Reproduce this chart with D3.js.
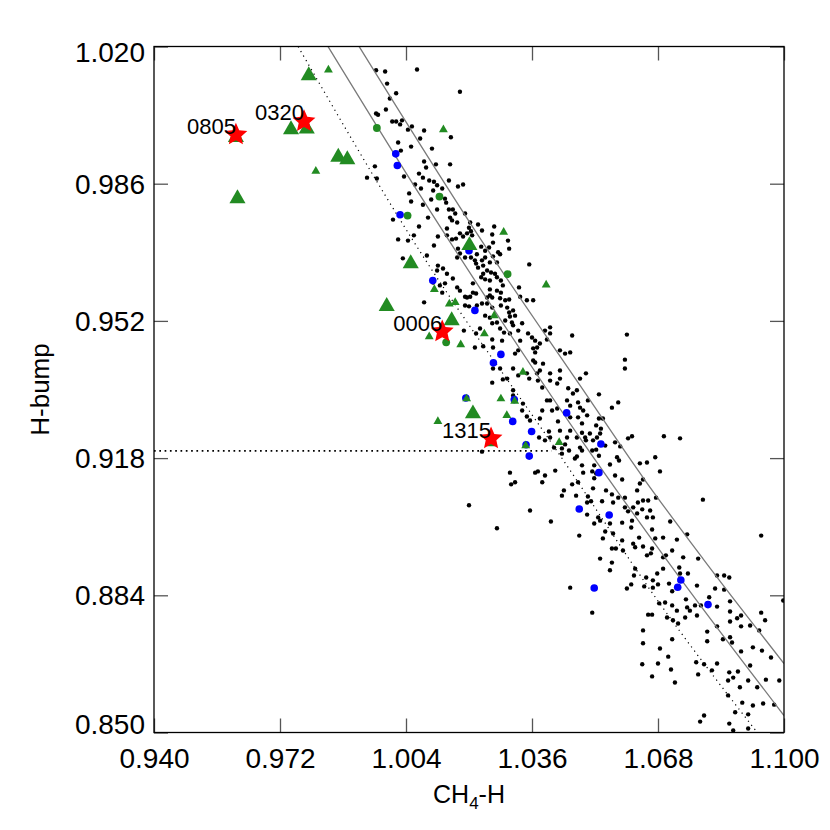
<!DOCTYPE html>
<html>
<head>
<meta charset="utf-8">
<script src="https://cdn.jsdelivr.net/npm/d3@7/dist/d3.min.js"></script>
<style>
  body { margin: 0; background: #fff; }
  text { font-family: "Liberation Sans", Arial, Helvetica, sans-serif; fill: #000; }
</style>
</head>
<body>
<div id="chart"></div>
<script>
// ------------------------- data ------------------------//

var xTicks = [0.940, 0.972, 1.004, 1.036, 1.068, 1.100];
var yTicks = [0.850, 0.884, 0.918, 0.952, 0.986, 1.020];

// field objects (small black dots)
var fieldStars = [
  [0.9964,1.0141],[0.9987,1.0138],[1.0068,1.0143],[0.9992,1.0108],[1.0015,1.0084],[0.9999,1.0071],[1.0177,1.0088],[0.9964,1.0034],[0.9969,1.0031],[0.9989,1.0044],
  [1.0005,1.0014],[1.0015,1.0014],[1.0030,1.0017],[1.0025,1.0007],[1.0055,1.0002],[1.0045,0.9994],[1.0086,0.9992],[1.0076,0.9972],[1.0154,0.9975],[1.0020,0.9962],
  [1.0027,0.9942],[1.0053,0.9952],[1.0106,0.9947],[0.9961,0.9903],[0.9941,0.9875],[0.9966,0.9873],[1.0035,0.9878],[1.0086,0.9915],[1.0091,0.9900],[1.0116,0.9908],
  [1.0152,0.9908],[1.0073,0.9885],[1.0083,0.9875],[1.0099,0.9868],[1.0111,0.9865],[1.0119,0.9856],[1.0063,0.9858],[1.0078,0.9848],[1.0048,0.9836],[1.0132,0.9848],
  [1.0149,0.9868],[1.0172,0.9853],[1.0185,0.9858],[1.0053,0.9816],[1.0083,0.9808],[1.0104,0.9821],[1.0139,0.9823],[1.0119,0.9796],[1.0096,0.9776],[1.0149,0.9796],
  [1.0159,0.9796],[1.0165,0.9786],[1.0190,0.9786],[1.0152,0.9776],[1.0170,0.9764],[1.0203,0.9764],[1.0223,0.9759],[1.0264,0.9754],[1.0073,0.9754],[1.0007,0.9771],
  [1.0060,0.9732],[1.0121,0.9729],[1.0144,0.9749],[1.0177,0.9737],[1.0195,0.9737],[1.0205,0.9742],[1.0233,0.9744],[1.0259,0.9734],[1.0020,0.9722],[1.0157,0.9722],
  [1.0109,0.9843],[1.0142,0.9813],[1.0157,0.9769],[1.0200,0.9751],[1.0208,0.9732],[1.0185,0.9729],[1.0167,0.9724],[1.0111,0.9707],[1.0144,0.9732],[1.0261,0.9714],
  [1.0251,0.9702],[1.0241,0.9694],[1.0231,0.9704],[1.0172,0.9699],[1.0177,0.9687],[1.0170,0.9677],[1.0190,0.9677],[1.0205,0.9677],[1.0220,0.9685],[1.0233,0.9670],
  [1.0241,0.9677],[1.0253,0.9665],[1.0261,0.9680],[1.0274,0.9690],[1.0279,0.9685],[1.0302,0.9699],[1.0271,0.9665],[1.0215,0.9670],[1.0218,0.9662],[1.0223,0.9652],
  [1.0236,0.9657],[1.0246,0.9645],[1.0256,0.9640],[1.0236,0.9637],[1.0231,0.9628],[1.0241,0.9623],[1.0253,0.9620],[1.0266,0.9637],[1.0271,0.9628],[1.0281,0.9620],
  [1.0286,0.9608],[1.0327,0.9603],[1.0353,0.9660],[1.0121,0.9657],[1.0134,0.9650],[1.0144,0.9637],[1.0119,0.9645],[1.0159,0.9625],[1.0139,0.9613],[1.0177,0.9595],
  [1.0210,0.9613],[1.0218,0.9588],[1.0203,0.9580],[1.0190,0.9580],[1.0253,0.9598],[1.0259,0.9578],[1.0246,0.9578],[1.0271,0.9595],[1.0281,0.9590],[1.0302,0.9573],
  [1.0330,0.9580],[1.0109,0.9615],
  [1.0045,0.9719],[1.0032,0.9675],[1.0093,0.9682],[1.0086,0.9566],[1.0126,0.9608],[1.0132,0.9590],[1.0170,0.9603],[1.0187,0.9496],[1.0233,0.9196],[1.0299,0.9719],
  [1.0406,0.9504],[1.0462,0.9484],[1.0457,0.9442],[1.0497,0.9390],[1.0482,0.9377],[1.0406,0.9231],[1.0436,0.9204],[1.0482,0.9206],[1.0495,0.9231],[1.0513,0.9199],
  [1.0474,0.9184],[1.0378,0.9231],[1.0393,0.9224],[1.0416,0.9206],[1.0444,0.9214],[1.0436,0.9191],[1.0469,0.9179],[1.0403,0.9246],[1.0368,0.9144],[1.0419,0.9149],
  [1.0304,0.9144],
  [1.0210,0.9590],[1.0195,0.9578],[1.0190,0.9558],[1.0200,0.9556],[1.0220,0.9558],[1.0233,0.9563],[1.0253,0.9583],[1.0246,0.9563],[1.0259,0.9553],[1.0279,0.9576],
  [1.0281,0.9558],[1.0292,0.9571],[1.0297,0.9553],[1.0302,0.9541],[1.0312,0.9546],[1.0304,0.9531],[1.0309,0.9516],[1.0317,0.9533],[1.0292,0.9521],[1.0271,0.9516],
  [1.0259,0.9514],[1.0253,0.9528],[1.0241,0.9533],[1.0218,0.9489],[1.0228,0.9501],[1.0215,0.9454],[1.0236,0.9457],[1.0259,0.9474],[1.0261,0.9454],[1.0279,0.9501],
  [1.0289,0.9491],[1.0284,0.9471],[1.0304,0.9489],[1.0312,0.9509],[1.0325,0.9496],[1.0330,0.9471],[1.0325,0.9447],[1.0317,0.9439],[1.0335,0.9514],[1.0347,0.9571],
  [1.0363,0.9571],[1.0350,0.9489],[1.0360,0.9479],[1.0368,0.9471],[1.0373,0.9454],[1.0363,0.9452],[1.0368,0.9442],[1.0380,0.9464],[1.0393,0.9496],[1.0398,0.9474],
  [1.0406,0.9489],[1.0380,0.9397],[1.0388,0.9414],[1.0368,0.9417],[1.0363,0.9422],[1.0347,0.9390],[1.0353,0.9377],[1.0373,0.9390],[1.0375,0.9372],[1.0386,0.9355],
  [1.0406,0.9390],[1.0406,0.9372],[1.0424,0.9365],[1.0431,0.9397],[1.0431,0.9377],[1.0444,0.9439],[1.0431,0.9447],[1.0452,0.9353],[1.0464,0.9340],[1.0474,0.9348],
  [1.0477,0.9318],[1.0482,0.9305],[1.0490,0.9298],[1.0502,0.9323],[1.0457,0.9310],[1.0449,0.9323],[1.0406,0.9323],[1.0398,0.9323],[1.0386,0.9298],[1.0411,0.9298],
  [1.0424,0.9303],[1.0426,0.9271],[1.0457,0.9281],[1.0477,0.9281],[1.0500,0.9286],[1.0487,0.9266],[1.0523,0.9261],[1.0540,0.9278],[1.0487,0.9243],[1.0507,0.9241],
  [1.0533,0.9241],[1.0457,0.9248],[1.0431,0.9248],[1.0449,0.9231],[1.0337,0.9315],[1.0335,0.9298],[1.0347,0.9283],[1.0355,0.9273],[1.0380,0.9278],[1.0259,0.9367],
  [1.0286,0.9375],[1.0312,0.9348],[1.0312,0.9335],[1.0297,0.9377],[1.0261,0.9402],[1.0279,0.9402],[1.0312,0.9402],[1.0325,0.9385],[1.0474,0.9231],[1.0525,0.9231],
  [1.0601,0.9486],[1.0596,0.9424],[1.0596,0.9402],[1.0530,0.9338],[1.0579,0.9318],[1.0563,0.9305],[1.0530,0.9278],[1.0535,0.9253],[1.0497,0.9224],[1.0515,0.9224],
  [1.0487,0.9199],[1.0523,0.9201],[1.0530,0.9186],[1.0576,0.9182],[1.0581,0.9174],[1.0571,0.9219],[1.0584,0.9209],[1.0546,0.9211],[1.0604,0.9229],[1.0614,0.9234],
  [1.0695,0.9234],[1.0736,0.9229],[1.0634,0.9167],[1.0652,0.9169],[1.0673,0.9182],[1.0685,0.9147],[1.0558,0.9164],[1.0487,0.9162],[1.0490,0.9144],[1.0513,0.9147],
  [1.0518,0.9130],[1.0571,0.9137],[1.0589,0.9127],[1.0642,0.9127],
  [1.0518,0.9162],[1.0523,0.9142],[1.0634,0.9117],[1.0627,0.9100],[1.0472,0.9087],[1.0500,0.9070],[1.0510,0.9073],[1.0538,0.9073],[1.0515,0.9105],[1.0548,0.9100],
  [1.0563,0.9090],[1.0566,0.9070],[1.0579,0.9082],[1.0596,0.9082],[1.0617,0.9058],[1.0629,0.9070],[1.0642,0.9075],[1.0655,0.9075],[1.0675,0.9082],[1.0596,0.9058],
  [1.0604,0.9048],[1.0627,0.9043],[1.0640,0.9053],[1.0660,0.9050],[1.0667,0.9033],[1.0652,0.9033],[1.0589,0.9020],[1.0614,0.9025],[1.0612,0.9008],[1.0518,0.9018],
  [1.0533,0.9025],[1.0546,0.8998],[1.0558,0.9018],[1.0566,0.8993],[1.0540,0.8981],[1.0480,0.8988],[1.0632,0.8983],[1.0617,0.8968],[1.0622,0.8959],[1.0642,0.8961],
  [1.0665,0.9003],[1.0673,0.8981],[1.0693,0.8983],[1.0728,0.8978],[1.0716,0.8951],[1.0754,0.8991],[1.0665,0.8956],[1.0652,0.8939],[1.0573,0.8956],[1.0591,0.8951],
  [1.0589,0.8976],[1.0533,0.8931],[1.0693,0.8934],[1.0744,0.8934],[1.0782,0.8931],[1.0711,0.9023],[1.0794,0.9077],[1.0942,0.8988],
  [1.0307,0.9115],[1.0317,0.9120],[1.0375,0.9147],[1.0386,0.9120],[1.0393,0.9137],[1.0454,0.9199],[1.0441,0.9100],[1.0436,0.9087],[1.0200,0.9063],[1.0271,0.9006],
  [1.0355,0.9050],[1.0408,0.9023],[1.0500,0.9040],[1.0528,0.9033],[1.0457,0.8859],[1.0513,0.8797],[1.0558,0.8902],[1.0563,0.8921],[1.0563,0.8956],[1.0622,0.8906],
  [1.0619,0.8889],[1.0601,0.8857],[1.0612,0.8867],[1.0645,0.8862],[1.0650,0.8884],[1.0667,0.8877],[1.0680,0.8867],[1.0655,0.8792],[1.0642,0.8753],[1.0683,0.8820],
  [1.0502,0.9085],[1.0477,0.9120],[1.0462,0.9115],
  [1.0662,0.8944],[1.0667,0.8859],[1.0678,0.8894],[1.0700,0.8939],[1.0693,0.8906],[1.0708,0.8869],[1.0716,0.8850],[1.0734,0.8909],[1.0736,0.8894],[1.0756,0.8894],
  [1.0779,0.8864],[1.0698,0.8822],[1.0716,0.8815],[1.0728,0.8802],[1.0754,0.8810],[1.0751,0.8830],[1.0761,0.8802],[1.0774,0.8815],[1.0703,0.8785],[1.0718,0.8778],
  [1.0731,0.8770],[1.0665,0.8792],[1.0749,0.8785],[1.0779,0.8790],[1.0789,0.8815],[1.0810,0.8835],[1.0825,0.8857],[1.0830,0.8889],[1.0848,0.8889],[1.0861,0.8884],
  [1.0848,0.8854],[1.0863,0.8825],[1.0830,0.8812],[1.0863,0.8800],[1.0891,0.8790],[1.0881,0.8783],[1.0891,0.8763],[1.0863,0.8775],[1.0830,0.8763],[1.0805,0.8750],
  [1.0805,0.8726],[1.0845,0.8731],[1.0863,0.8736],[1.0868,0.8723],[1.0914,0.8765],[1.0937,0.8753],[1.0942,0.8797],[1.0952,0.8778],[1.0642,0.8721],[1.0685,0.8708],
  [1.0706,0.8688],[1.0716,0.8731],[1.0680,0.8671],[1.0640,0.8669],[1.0665,0.8639],[1.0713,0.8656],[1.0723,0.8624],[1.0777,0.8674],[1.0782,0.8644],[1.0797,0.8669],
  [1.0817,0.8654],[1.0830,0.8671],[1.0861,0.8649],[1.0871,0.8636],[1.0883,0.8651],[1.0858,0.8629],[1.0888,0.8612],[1.0914,0.8666],[1.0921,0.8711],[1.0944,0.8703],
  [1.0891,0.8701],[1.0967,0.8686],[1.0909,0.8629],[1.0932,0.8612],[1.0954,0.8631],[1.0988,0.8629],[1.0947,0.8572],[1.0921,0.8567],[1.0975,0.8569],[1.0894,0.8574],
  [1.0876,0.8550],[1.0909,0.8545],[1.0858,0.8592],[1.0861,0.8522],[1.0909,0.8510],[1.0871,0.8505],[1.0787,0.8527],[1.0797,0.8542],[1.0998,0.8827]
];

// blue filled circles
var blueStars = [
  [1.0014,0.9934],[1.0018,0.9905],[1.0025,0.9783],[1.0200,0.9694],[1.0108,0.9620],[1.0215,0.9546],[1.0281,0.9437],[1.0262,0.9416],
  [1.0192,0.9329],[1.0315,0.9325],[1.0311,0.9271],[1.0359,0.9246],[1.0345,0.9213],[1.0353,0.9185],[1.0448,0.9292],[1.0535,0.9215],
  [1.0530,0.9144],[1.0480,0.9054],[1.0556,0.9039],[1.0518,0.8858],[1.0738,0.8878],[1.0730,0.8860],[1.0807,0.8817]
];

// green filled circles
var greenDots = [
  [0.9966,0.9998],[1.0125,0.9828],[1.0044,0.9781],[1.0298,0.9636],[1.0142,0.9467]
];

// green triangles, large
var bigTriangles = [
  [0.9793,1.0128],[0.9748,0.9994],[0.9788,0.9996],[0.9868,0.9926],[0.9891,0.9920],[0.9612,0.9823],
  [1.0201,0.9707],[1.0052,0.9662],[0.9991,0.9556],[1.0156,0.9521],[1.0210,0.9290],[0.9608,0.9975]
];

// green triangles, small
var smallTriangles = [
  [0.9843,1.0142],[0.9811,0.9891],[1.0135,0.9994],[1.0288,0.9740],[1.0396,0.9609],[1.0112,0.9598],[1.0150,0.9562],
  [1.0165,0.9566],[1.0099,0.9481],[1.0179,0.9461],[1.0239,0.9488],[1.0264,0.9533],[1.0337,0.9393],[1.0281,0.9327],
  [1.0316,0.9321],[1.0194,0.9327],[1.0121,0.9271],[1.0296,0.9286],[1.0344,0.9211],[1.0429,0.9219],[1.0256,0.9216]
];

// labelled red stars
var flareIds = ["0805", "0320", "0006", "1315"];
var flareX = [0.9608, 0.9781, 1.0132, 1.0256];
var flareY = [0.9984, 1.0017, 0.9496, 0.9231];

// reference tracks
var upperTrack = [[0.9921,1.020],[1.0232,0.9719],[1.0482,0.9360],[1.0647,0.9125],[1.0794,0.8931],[1.100,0.8671]];
var lowerTrack = [[0.9842,1.020],[1.0076,0.9831],[1.0248,0.9571],[1.0486,0.9224],[1.0702,0.8928],[1.100,0.8542]];
var dottedTrack = [[0.9766,1.020],[1.0058,0.9719],[1.0440,0.9174],[1.0685,0.8819],[1.0932,0.850]];
var cutLevel = 0.9198, cutEnd = 1.041;

// ------------------------- svg init ------------------------//

var width = 830,
  height = 830;

var x = d3.scaleLinear().domain([0.940, 1.100]).range([154, 784]);
var y = d3.scaleLinear().domain([0.850, 1.020]).range([732.5, 46.5]);

var svg = d3.select("#chart").append("svg")
  .attr("width", width)
  .attr("height", height);

svg.append("defs").append("clipPath")
  .attr("id", "plotclip")
  .append("rect")
  .attr("x", x(0.940)).attr("y", y(1.020))
  .attr("width", x(1.100) - x(0.940)).attr("height", y(0.850) - y(1.020));

var plot = svg.append("g").attr("clip-path", "url(#plotclip)");

// ------------------------- marks ------------------------//

plot.selectAll(".field")
  .data(fieldStars)
  .enter().append("circle")
  .attr("class", "field")
  .attr("cx", function (d) { return x(d[0]); })
  .attr("cy", function (d) { return y(d[1]); })
  .attr("r", 2.2)
  .attr("fill", "#000");

var track = d3.line()
  .x(function (d) { return x(d[0]); })
  .y(function (d) { return y(d[1]); })
  .curve(d3.curveMonotoneX);

plot.append("path").datum(upperTrack)
  .attr("d", track).attr("fill", "none")
  .attr("stroke", "#7a7a7a").attr("stroke-width", 1.3);

plot.append("path").datum(lowerTrack)
  .attr("d", track).attr("fill", "none")
  .attr("stroke", "#7a7a7a").attr("stroke-width", 1.3);

plot.append("path").datum(dottedTrack)
  .attr("d", track).attr("fill", "none")
  .attr("stroke", "#000").attr("stroke-width", 1.2)
  .attr("stroke-dasharray", "1.2,4");

plot.append("line")
  .attr("x1", x(0.940)).attr("x2", x(cutEnd))
  .attr("y1", y(cutLevel)).attr("y2", y(cutLevel))
  .attr("stroke", "#000").attr("stroke-width", 1.7)
  .attr("stroke-dasharray", "1.7,3.6");

plot.selectAll(".blue")
  .data(blueStars)
  .enter().append("circle")
  .attr("class", "blue")
  .attr("cx", function (d) { return x(d[0]); })
  .attr("cy", function (d) { return y(d[1]); })
  .attr("r", 3.8)
  .attr("fill", "#0000ff");

plot.selectAll(".gdot")
  .data(greenDots)
  .enter().append("circle")
  .attr("class", "gdot")
  .attr("cx", function (d) { return x(d[0]); })
  .attr("cy", function (d) { return y(d[1]); })
  .attr("r", 3.9)
  .attr("fill", "#228b22");

var triBig = d3.symbol().type(d3.symbolTriangle).size(112);
var triSmall = d3.symbol().type(d3.symbolTriangle).size(34);

plot.selectAll(".tbig")
  .data(bigTriangles)
  .enter().append("path")
  .attr("class", "tbig")
  .attr("d", triBig)
  .attr("transform", function (d) { return "translate(" + x(d[0]) + "," + y(d[1]) + ")"; })
  .attr("fill", "#228b22");

plot.selectAll(".tsmall")
  .data(smallTriangles)
  .enter().append("path")
  .attr("class", "tsmall")
  .attr("d", triSmall)
  .attr("transform", function (d) { return "translate(" + x(d[0]) + "," + y(d[1]) + ")"; })
  .attr("fill", "#228b22");

var flares = flareIds.map(function (id, i) { return { id: id, x: flareX[i], y: flareY[i] }; });

// five-pointed star, a bit fatter than d3.symbolStar
var starOuter = 12, starInner = 5.6;
var starPts = d3.range(10).map(function (i) {
  var a = -Math.PI / 2 + i * Math.PI / 5, r = i % 2 ? starInner : starOuter;
  return [r * Math.cos(a), r * Math.sin(a)];
});
var starPath = "M" + starPts.map(function (p) { return p[0].toFixed(2) + "," + p[1].toFixed(2); }).join("L") + "Z";

plot.selectAll(".flare")
  .data(flares)
  .enter().append("path")
  .attr("class", "flare")
  .attr("d", starPath)
  .attr("transform", function (d) { return "translate(" + x(d.x) + "," + (y(d.y) + 1) + ")"; })
  .attr("fill", "#ff0000");

svg.selectAll(".flarelabel")
  .data(flares)
  .enter().append("text")
  .attr("class", "flarelabel")
  .attr("x", function (d) { return x(d.x); })
  .attr("y", function (d) { return y(d.y); })
  .attr("text-anchor", "end")
  .style("font-size", "22px")
  .text(function (d) { return d.id; });

// ------------------------- axes ------------------------//

function styleAxis(g) {
  g.select(".domain").remove();
  g.selectAll(".tick line").attr("stroke", "#555").attr("stroke-width", 1.3);
  g.selectAll(".tick text").style("font-size", "28px").attr("fill", "#000")
    .style("font-family", "'Liberation Sans', Arial, sans-serif");
}

svg.append("g")
  .attr("transform", "translate(0," + y(0.850) + ")")
  .call(d3.axisBottom(x).tickValues(xTicks).tickSize(-14).tickPadding(15.5)
    .tickFormat(d3.format(".3f")))
  .call(styleAxis);

svg.append("g")
  .attr("transform", "translate(0," + y(1.020) + ")")
  .call(d3.axisTop(x).tickValues(xTicks).tickSize(-14).tickFormat(""))
  .call(styleAxis);

var yAxis = svg.append("g")
  .attr("transform", "translate(" + x(0.940) + ",0)")
  .call(d3.axisLeft(y).tickValues(yTicks).tickSize(-14).tickPadding(9)
    .tickFormat(d3.format(".3f")))
  .call(styleAxis);

// end labels are pulled inside the frame
yAxis.selectAll(".tick text")
  .attr("dy", function (d) {
    if (d === 1.020) return "0.55em";
    if (d === 0.850) return "0.02em";
    return "0.34em";
  });

svg.append("g")
  .attr("transform", "translate(" + x(1.100) + ",0)")
  .call(d3.axisRight(y).tickValues(yTicks).tickSize(-14).tickFormat(""))
  .call(styleAxis);

svg.append("rect")
  .attr("x", x(0.940)).attr("y", y(1.020))
  .attr("width", x(1.100) - x(0.940)).attr("height", y(0.850) - y(1.020))
  .attr("fill", "none").attr("stroke", "#000").attr("stroke-width", 1.3);

// axis titles
var xTitle = svg.append("text")
  .attr("x", (x(0.940) + x(1.100)) / 2)
  .attr("y", 803)
  .attr("text-anchor", "middle")
  .style("font-size", "25px");
xTitle.append("tspan").text("CH");
xTitle.append("tspan").attr("dy", 6).style("font-size", "17px").text("4");
xTitle.append("tspan").attr("dy", -6).text("-H");

svg.append("text")
  .attr("transform", "translate(49," + (y(0.935)) + ") rotate(-90)")
  .attr("text-anchor", "middle")
  .style("font-size", "26px")
  .text("H-bump");
</script>
</body>
</html>
